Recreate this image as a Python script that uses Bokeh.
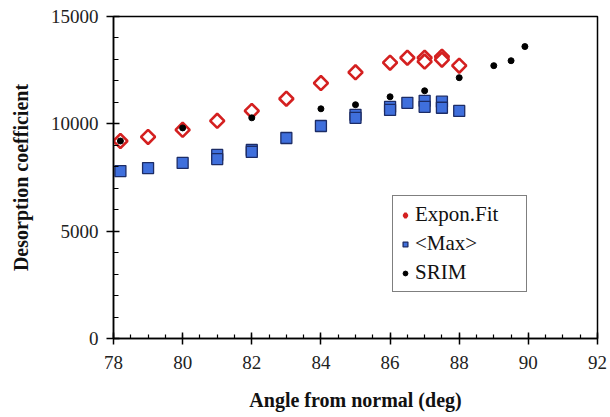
import math
from bokeh.plotting import figure
from bokeh.models import Legend, LegendItem, FixedTicker
from bokeh.embed import file_html
from bokeh.resources import INLINE

# Expon.Fit
fit_x = [78.2, 79, 80, 81, 82, 83, 84, 85, 86, 86.5, 87, 87, 87.5, 87.5, 88]
fit_y = [9200, 9390, 9720, 10140, 10600, 11170, 11900, 12400, 12850, 13080, 13080, 12900, 13130, 12990, 12710]
# <Max>
max_x = [78.2, 79, 80, 81, 81, 82, 82, 83, 84, 85, 85, 86, 86, 86.5, 87, 87, 87.5, 87.5, 88]
max_y = [7800, 7940, 8180, 8550, 8360, 8780, 8690, 9340, 9900, 10420, 10280, 10790, 10650, 10980, 11070, 10790, 11030, 10750, 10600]
# SRIM
srim_x = [78.2, 80, 82, 84, 85, 86, 87, 88, 89, 89.5, 89.9]
srim_y = [9200, 9810, 10280, 10700, 10890, 11260, 11540, 12150, 12710, 12940, 13600]

x_ticks = [78, 80, 82, 84, 86, 88, 90, 92]
y_ticks = [0, 5000, 10000, 15000]

FONT = "Liberation Serif"

p = figure(width=608, height=417, output_backend="svg", toolbar_location=None,
           x_range=(78, 92), y_range=(0, 15000),
           min_border_left=113, min_border_right=11, min_border_top=16, min_border_bottom=79)
p.grid.visible = False
p.outline_line_color = "black"
p.outline_line_width = 1.5

r_fit = p.scatter(fit_x, fit_y, marker="square", angle=math.pi / 4, size=10, fill_color="white",
                  line_color="#d42020", line_width=2.6)
r_fit_leg = p.scatter([70], [0], marker="diamond", size=14, fill_color="white",
                      line_color="#d42020", line_width=2.6)
r_max = p.scatter(max_x, max_y, marker="square", size=11, fill_color="#3f6fdc",
                  line_color="#1c2c66", line_width=1.3)
r_srim = p.scatter(srim_x, srim_y, marker="circle", size=6, fill_color="black",
                   line_color="black")

for ax in (p.xaxis[0], p.yaxis[0]):
    ax.axis_line_width = 1.5
    ax.major_tick_line_width = 1.5
    ax.minor_tick_line_width = 1.2
    ax.major_label_text_font = FONT
    ax.major_label_text_font_size = "19px"
    ax.major_label_text_color = "#222222"
    ax.axis_label_text_font = FONT
    ax.axis_label_text_font_size = "20px"
    ax.axis_label_text_font_style = "bold"
    ax.axis_label_text_color = "#111111"

p.xaxis.ticker = FixedTicker(ticks=x_ticks, minor_ticks=[78 + 0.5 * i for i in range(29)])
p.yaxis.ticker = FixedTicker(ticks=y_ticks, minor_ticks=[1000 * i for i in range(16)])
p.xaxis.major_tick_in = 6
p.xaxis.major_tick_out = 6
p.xaxis.minor_tick_in = 4
p.xaxis.minor_tick_out = 0
p.yaxis.major_tick_in = 6
p.yaxis.major_tick_out = 7
p.yaxis.minor_tick_in = 5
p.yaxis.minor_tick_out = 0
p.xaxis.axis_label = "Angle from normal (deg)"
p.yaxis.axis_label = "Desorption coefficient"
p.xaxis.major_label_standoff = 11
p.yaxis.major_label_standoff = 8
p.xaxis.axis_label_standoff = 17
p.yaxis.axis_label_standoff = 16

legend = Legend(items=[
    LegendItem(label="Expon.Fit", renderers=[r_fit_leg]),
    LegendItem(label="<Max>", renderers=[r_max]),
    LegendItem(label="SRIM", renderers=[r_srim]),
], location=(279, 46))
legend.border_line_color = "black"
legend.border_line_width = 1.5
legend.label_text_font = FONT
legend.label_text_font_size = "21px"
legend.label_text_color = "#111111"
legend.glyph_width = 12
legend.glyph_height = 14
legend.label_height = 20
legend.label_width = 105
legend.spacing = 4
legend.padding = 6
legend.margin = 0
legend.label_standoff = 4
p.add_layout(legend, "center")

open("out.html", "w").write(file_html(p, INLINE))
